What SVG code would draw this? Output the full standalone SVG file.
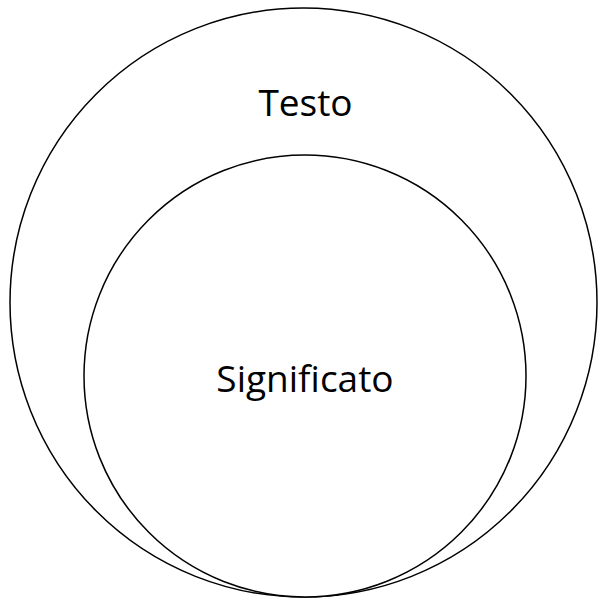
<svg xmlns="http://www.w3.org/2000/svg" width="598" height="600" viewBox="0 0 598 600">
<style>
.c{fill:#fff;stroke:#000;stroke-width:1.5}
.t{font-family:"Open Sans","Liberation Sans",sans-serif;font-size:37px;fill:#000;text-anchor:middle}
</style>
<rect width="598" height="600" fill="#fff"/>
<g id="testo">
<ellipse class="c" cx="303.5" cy="302.5" rx="293.5" ry="294.5"/>
<text class="t" x="305.5" y="116">Testo</text>
</g>
<g id="significato">
<circle class="c" cx="305" cy="376" r="221"/>
<text class="t" x="305" y="392">Significato</text>
</g>
<g id="connectors"/>
</svg>
